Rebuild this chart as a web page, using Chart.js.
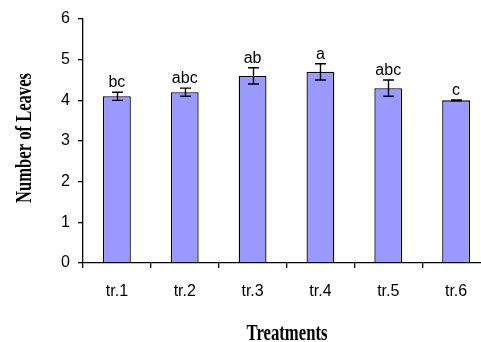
<!DOCTYPE html>
<html>
<head>
<meta charset="utf-8">
<script src="https://cdn.jsdelivr.net/npm/chart.js@4/dist/chart.umd.min.js"></script>
<style>
  html, body { margin: 0; padding: 0; background: #fff; overflow: hidden; }
  #wrap { width: 500px; height: 342px; }
</style>
</head>
<body>
<div id="wrap"><canvas id="leavesChart" width="500" height="342"></canvas></div>
<script>
    // treatments and mean leaf count, with standard error and significance letters
    var treatments = ["tr.1", "tr.2", "tr.3", "tr.4", "tr.5", "tr.6"]
    var leaves = [4.1, 4.2, 4.6, 4.7, 4.3, 4.0]
    var errors = [0.1, 0.1, 0.2, 0.2, 0.2, 0.01]
    var groups = ["bc", "abc", "ab", "a", "abc", "c"]
    var yTicks = [0, 1, 2, 3, 4, 5, 6]

    var titleFont = "bold 24px 'Liberation Serif', 'Times New Roman', serif"

    // squeezes a title into a given width, like the narrow bold serif labels
    function drawSqueezed(ctx, text, x, y, width, angle){
        ctx.save()
        ctx.font = titleFont
        ctx.fillStyle = "#000"
        ctx.textAlign = "center"
        ctx.textBaseline = "alphabetic"
        var natural = ctx.measureText(text).width
        ctx.translate(x, y)
        ctx.rotate(angle)
        ctx.scale(width / natural, 1)
        ctx.fillText(text, 0, 0)
        ctx.restore()
    }

    var errorBars = {
        id: "errorBars",
        afterDatasetsDraw: function(chart){
            var ctx = chart.ctx
            var y = chart.scales.y
            var meta = chart.getDatasetMeta(0)
            ctx.save()
            ctx.strokeStyle = "#000"
            ctx.lineWidth = 1.4
            ctx.fillStyle = "#000"
            ctx.font = "16px 'Liberation Sans', Arial, sans-serif"
            ctx.textAlign = "center"
            ctx.textBaseline = "alphabetic"
            meta.data.forEach(function(bar, i){
                var top = y.getPixelForValue(leaves[i] + errors[i])
                var bottom = y.getPixelForValue(leaves[i] - errors[i])
                var x = Math.round(bar.x) + 0.5
                ctx.beginPath()
                ctx.moveTo(x, top); ctx.lineTo(x, bottom)
                ctx.moveTo(x - 5.5, top); ctx.lineTo(x + 5.5, top)
                ctx.moveTo(x - 5.5, bottom); ctx.lineTo(x + 5.5, bottom)
                ctx.stroke()
                ctx.fillText(groups[i], bar.x, top - 5)
            })
            ctx.restore()
        }
    }

    var axisTitles = {
        id: "axisTitles",
        afterDraw: function(chart){
            var ctx = chart.ctx
            drawSqueezed(ctx, "Number of Leaves", 31, 138, 130, -Math.PI / 2)
            drawSqueezed(ctx, "Treatments", 287, 340, 81, 0)
        }
    }

    var ctx = document.getElementById("leavesChart").getContext("2d")
    var chart = new Chart(ctx, {
        type: "bar",
        data: {
            labels: treatments,
            datasets: [{
                data: leaves,
                backgroundColor: "#9999FF",
                borderColor: "#000",
                borderWidth: 1.3,
                barPercentage: 0.41,
                categoryPercentage: 1
            }]
        },
        plugins: [errorBars, axisTitles],
        options: {
            responsive: false,
            animation: false,
            layout: { padding: { left: 0, top: 19, right: 10, bottom: 0 } },
            plugins: { legend: { display: false }, tooltip: { enabled: false } },
            scales: {
                x: {
                    offset: true,
                    grid: { display: true, drawOnChartArea: false, offset: true, tickLength: 5, color: "#000", lineWidth: 1.3 },
                    border: { display: true, color: "#000", width: 1.3 },
                    ticks: { color: "#000", font: { family: "'Liberation Sans', Arial, sans-serif", size: 16 }, padding: 14 },
                    afterFit: function(s){ s.height = 79 }
                },
                y: {
                    min: 0,
                    max: 6,
                    afterBuildTicks: function(s){ s.ticks = yTicks.map(function(v){ return { value: v } }) },
                    grid: { display: true, drawOnChartArea: false, tickLength: 5, color: "#000", lineWidth: 1.3 },
                    border: { display: true, color: "#000", width: 1.3 },
                    ticks: { color: "#000", font: { family: "'Liberation Sans', Arial, sans-serif", size: 16 }, padding: 8 },
                    afterFit: function(s){ s.width = 83 }
                }
            }
        }
    })
</script>
</body>
</html>
